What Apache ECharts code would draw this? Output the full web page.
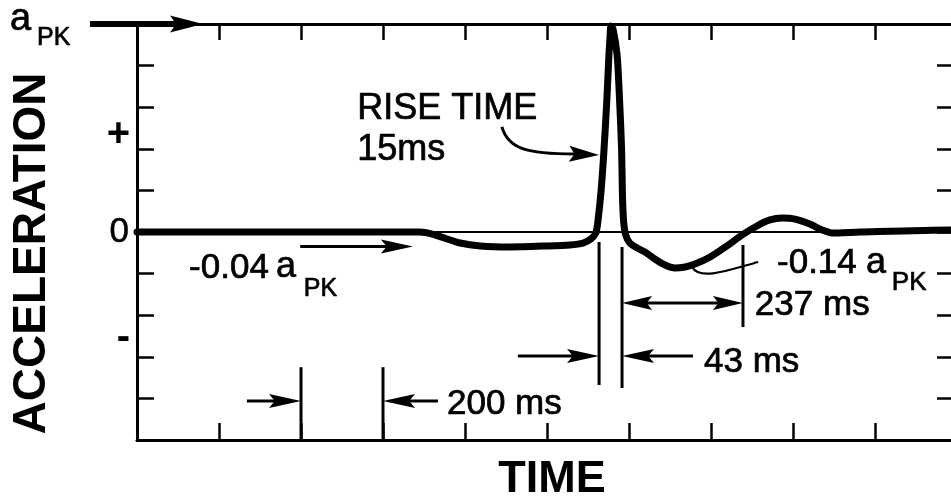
<!DOCTYPE html>
<html><head><meta charset="utf-8">
<script src="https://cdn.jsdelivr.net/npm/echarts@6/dist/echarts.min.js"></script>
<style>html,body{margin:0;padding:0;background:#fff}#c{width:951px;height:501px}</style>
</head><body><div id="c"></div>
<script>
// ---- data (time in ms, acceleration as a fraction of a_PK) ----
const timeMs = [0,398,690,720,751,788,837,910,1000,1056,1088,1107,1119,1124,1132,1139,1146,1151,1154,1156,1161,1171,1177,1182,1184,1187,1192,1202,1220,1239,1263,1288,1312,1337,1361,1398,1439,1476,1512,1544,1573,1605,1641,1671,1695,1763,1985,2000];
const accelPk = [0,0,0,-0.01,-0.03,-0.053,-0.067,-0.072,-0.067,-0.062,-0.053,-0.034,-0.005,0.048,0.20,0.394,0.635,0.85,0.947,0.99,0.976,0.851,0.635,0.394,0.178,0.048,-0.014,-0.053,-0.077,-0.096,-0.13,-0.159,-0.173,-0.168,-0.154,-0.12,-0.067,-0.014,0.029,0.058,0.067,0.062,0.038,0.01,-0.005,0,0.01,0.01];
const xRange = [0, 2000];
const xStep = 200;
const yRange = [-1, 1];
const yStep = 0.2;
const signLabels = {'0.5': '{p|+}', '-0.5': '{m|-}'};
const zeroLabel = '0';
const markerTimes200 = [400, 600];     // "200 ms" markers
const markerTimes43 = [1127, 1183];    // "43 ms" markers
const markerTime237 = 1478;            // end of "237 ms"

const FF = '"Liberation Sans", Arial, Helvetica, sans-serif';
const K = '#000';

const chart = echarts.init(document.getElementById('c'));
const tickStyle = {color: K, width: 2.5};
const option = {
  animation: false,
  backgroundColor: '#fff',
  grid: {left: 137, top: 24, width: 820, height: 416, containLabel: false, outerBoundsMode: 'none'},
  xAxis: [
    {type: 'value', min: xRange[0], max: xRange[1], interval: xStep, position: 'bottom',
     axisLine: {show: true, onZero: false, lineStyle: {color: K, width: 3}},
     axisTick: {show: true, inside: true, length: 17, lineStyle: tickStyle},
     axisLabel: {show: false}, splitLine: {show: false}},
    {type: 'value', min: xRange[0], max: xRange[1], interval: xStep, position: 'top',
     axisLine: {show: true, onZero: false, lineStyle: {color: K, width: 3}},
     axisTick: {show: true, inside: true, length: 16, lineStyle: tickStyle},
     axisLabel: {show: false}, splitLine: {show: false}}
  ],
  yAxis: [
    {type: 'value', min: yRange[0], max: yRange[1], interval: yStep, position: 'left',
     axisLine: {show: true, onZero: false, lineStyle: {color: K, width: 3}},
     axisTick: {show: true, inside: true, length: 17, lineStyle: tickStyle},
     axisLabel: {show: true, margin: 8, color: K, fontFamily: FF, fontSize: 35,
       textBorderColor: K, textBorderWidth: 0.5,
       formatter: v => Math.abs(v) < 1e-9 ? zeroLabel : ''},
     splitLine: {show: false}},
    {type: 'value', min: yRange[0], max: yRange[1], interval: yStep, position: 'right',
     axisLine: {show: true, onZero: false, lineStyle: {color: K, width: 3}},
     axisTick: {show: true, inside: true, length: 20, lineStyle: tickStyle},
     axisLabel: {show: false}, splitLine: {show: false}},
    {type: 'value', min: yRange[0], max: yRange[1], interval: 0.5, position: 'left',
     axisLine: {show: false}, axisTick: {show: false}, splitLine: {show: false},
     axisLabel: {show: true, margin: 7, color: K, fontFamily: FF, fontSize: 40, fontWeight: 'bold',
       formatter: v => signLabels[String(v)] || '',
       rich: {p: {fontFamily: FF, fontSize: 40, fontWeight: 'bold', color: K, padding: [13, 0, 0, 0]},
              m: {fontFamily: FF, fontSize: 40, fontWeight: 'bold', color: K, padding: [3, 0, 0, 0]}}}}
  ],
  series: [{
    type: 'line', xAxisIndex: 0, yAxisIndex: 0,
    data: timeMs.map((t, i) => [t, accelPk[i]]),
    showSymbol: false, symbol: 'none', smooth: 0.25, clip: false,
    lineStyle: {color: K, width: 7, join: 'round', cap: 'round'},
    markLine: {silent: true, symbol: 'none', label: {show: false},
      lineStyle: {color: K, width: 2, type: 'solid'}, data: [{yAxis: 0}]}
  }]
};
chart.setOption(option);

const P = (x, y) => chart.convertToPixel({seriesIndex: 0}, [x, y]);
const G = [];
function line(a, b, lw) {
  G.push({type: 'line', z: 100, shape: {x1: a[0], y1: a[1], x2: b[0], y2: b[1]},
    style: {stroke: K, lineWidth: lw, lineCap: 'butt'}});
}
function head(tip, from, len, hw) {
  const dx = tip[0] - from[0], dy = tip[1] - from[1];
  const d = Math.hypot(dx, dy), ux = dx / d, uy = dy / d;
  const bx = tip[0] - ux * len, by = tip[1] - uy * len;
  const nx = -uy, ny = ux;
  G.push({type: 'polygon', z: 101, shape: {points: [
    tip, [bx + nx * hw, by + ny * hw], [bx + ux * len * 0.18, by + uy * len * 0.18], [bx - nx * hw, by - ny * hw]]},
    style: {fill: K}});
  return [bx + ux * len * 0.3, by + uy * len * 0.3];
}
function arrow(fromD, tipD, lw, len, hw) {
  const a = P(fromD[0], fromD[1]), t = P(tipD[0], tipD[1]);
  const base = head(t, a, len, hw);
  line(a, base, lw);
}
function vline(x, y1, y2, lw) { line(P(x, y1), P(x, y2), lw); }
function txt(s, xD, baseD, fs, opt) {
  opt = opt || {};
  const p = P(xD, baseD);
  G.push({type: 'text', z: 102, x: p[0], y: p[1] - 0.3465 * fs,
    style: {text: s, fill: K, fontFamily: FF, fontSize: fs, fontWeight: opt.bold ? 'bold' : 'normal',
      align: opt.align || 'left', verticalAlign: 'middle',
      stroke: opt.bold ? null : K, lineWidth: opt.bold ? 0 : 0.7}});
}

// a_PK label with thick arrow at top-left
txt('a', -310, 0.957, 38);
txt('PK', -244, 0.889, 25);
arrow([-114.6, 1], [161, 1], 6, 33, 8.5);

// RISE TIME annotation
txt('RISE TIME', 537, 0.529, 36);
txt('15ms', 537, 0.332, 36);
(function () {
  const s = P(890, 0.505), c1 = P(905, 0.40), c2 = P(950, 0.375), e = P(1068, 0.375), t = P(1127, 0.37);
  G.push({type: 'bezierCurve', z: 100, shape: {x1: s[0], y1: s[1], cpx1: c1[0], cpy1: c1[1], cpx2: c2[0], cpy2: c2[1], x2: e[0], y2: e[1]},
    style: {stroke: K, lineWidth: 3, fill: null}});
  const b = head(t, e, 30, 8);
  line(e, b, 3);
})();

// -0.04 a_PK
txt('-0.04', 127, -0.231, 35);
txt('a', 339, -0.231, 36);
txt('PK', 407, -0.317, 25);
arrow([398, -0.07], [673, -0.07], 3, 32, 7);

// 200 ms
markerTimes200.forEach(t => vline(t, -1, -0.65, 3));
arrow([268, -0.8125], [markerTimes200[0], -0.8125], 3, 32, 7);
arrow([734, -0.8125], [markerTimes200[1], -0.8125], 3, 32, 7);
txt('200 ms', 756, -0.889, 35);

// 43 ms
vline(markerTimes43[0], -0.048, -0.736, 3);
vline(markerTimes43[1], -0.072, -0.75, 3);
arrow([929, -0.596], [markerTimes43[0], -0.596], 3, 32, 7);
arrow([1356, -0.596], [markerTimes43[1], -0.596], 3, 32, 7);
txt('43 ms', 1383, -0.683, 35);

// 237 ms
vline(markerTime237, -0.0625, -0.457, 3);
(function () {
  const a = P(markerTimes43[1], -0.341), b = P(markerTime237, -0.341);
  const ba = head(a, b, 30, 7), bb = head(b, a, 30, 7);
  line(ba, bb, 3);
})();
txt('237 ms', 1507, -0.413, 35);

// -0.14 a_PK with leader
txt('-0.14', 1561, -0.207, 35);
txt('a', 1778, -0.207, 36);
txt('PK', 1841, -0.288, 26);
(function () {
  const s = P(1515, -0.144), c1 = P(1459, -0.173), c2 = P(1373, -0.24), e = P(1354, -0.168);
  G.push({type: 'bezierCurve', z: 100, shape: {x1: s[0], y1: s[1], cpx1: c1[0], cpy1: c1[1], cpx2: c2[0], cpy2: c2[1], x2: e[0], y2: e[1]},
    style: {stroke: K, lineWidth: 2.2, fill: null}});
})();

// axis titles
txt('TIME', 1012, -1.264, 45, {bold: true, align: 'center'});
(function () {
  const p = P(-255, -0.103);
  G.push({type: 'text', z: 102, x: p[0], y: p[1], rotation: Math.PI / 2,
    style: {text: 'ACCELERATION', fill: K, fontFamily: FF, fontSize: 46, fontWeight: 'bold',
      align: 'center', verticalAlign: 'middle'}});
})();

chart.setOption({graphic: G});
</script></body></html>
